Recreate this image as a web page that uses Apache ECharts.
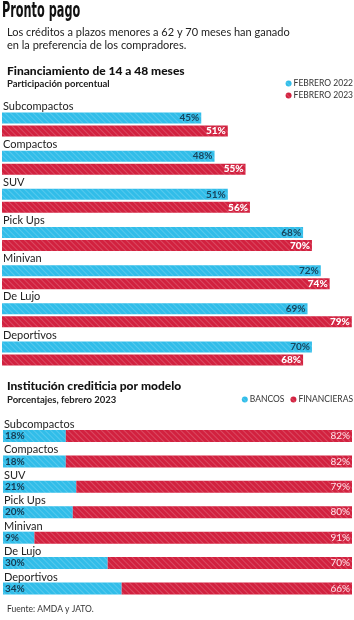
<!DOCTYPE html>
<html>
<head>
<meta charset="utf-8">
<script src="https://cdn.jsdelivr.net/npm/echarts@6/dist/echarts.min.js"></script>
<style>
  html, body { margin: 0; padding: 0; background: #fff; }
  #chart { width: 354px; height: 620px; }
</style>
</head>
<body>
<div id="chart"></div>
<script>
// datos
const modelos = ['Subcompactos', 'Compactos', 'SUV', 'Pick Ups', 'Minivan', 'De Lujo', 'Deportivos'];
const feb2022 = [45, 48, 51, 68, 72, 69, 70];
const feb2023 = [51, 55, 56, 70, 74, 79, 68];
const bancos = [18, 18, 21, 20, 9, 30, 34];
const financieras = [82, 82, 79, 80, 91, 70, 66];

const AZUL = '#31bde9';
const ROJO = '#d2213f';
const FONT = 'Lato, "Open Sans", sans-serif';

// rayas diagonales de las barras
const rayas = {
  symbol: 'rect',
  symbolSize: 1,
  dashArrayX: [1, 0],
  dashArrayY: [1, 3],
  rotation: Math.PI / 4,
  color: 'rgba(255,255,255,0.18)'
};

const myChart = echarts.init(document.getElementById('chart'));

// nombre del modelo encima de sus barras: bloque alto centrado en la banda
const catAxis = (gridIndex, hueco) => ({
  type: 'category',
  gridIndex,
  data: modelos,
  inverse: true,
  axisLine: { show: false },
  axisTick: { show: false },
  z: 5,
  axisLabel: {
    inside: true,
    interval: 0,
    showMinLabel: true,
    showMaxLabel: true,
    margin: 1,
    verticalAlign: 'middle',
    formatter: v => '{n|' + v + '}\n{s| }',
    rich: {
      n: { color: '#222', fontFamily: FONT, fontSize: 11, lineHeight: 12 },
      s: { fontSize: 2, lineHeight: hueco }
    }
  }
});

const leyenda = {
  icon: 'circle',
  padding: 0,
  itemWidth: 6, itemHeight: 6,
  textStyle: { fontFamily: FONT, fontSize: 8.5, color: '#333', padding: [0, 0, 0, -3] }
};

const option = {
  animation: false,
  textStyle: { fontFamily: FONT },
  graphic: [
    {
      type: 'text',
      x: 2, y: 0,
      scaleX: 0.57,
      style: {
        text: 'Pronto pago',
        font: 'bold 22px "Liberation Sans Narrow", "DejaVu Sans Condensed", sans-serif',
        fill: '#111',
        textVerticalAlign: 'top'
      }
    }
  ],
  title: [
    {
      text: 'Los créditos a plazos menores a 62 y 70 meses han ganado\nen la preferencia de los compradores.',
      left: 2, top: 21,
      textStyle: { fontFamily: FONT, fontSize: 11, lineHeight: 13, fontWeight: 'normal', color: '#222' }
    },
    {
      text: 'Financiamiento de 14 a 48 meses',
      left: 2, top: 60,
      textStyle: { fontFamily: FONT, fontSize: 12, fontWeight: 900, color: '#111' }
    },
    {
      text: 'Participación porcentual',
      left: 2, top: 74,
      textStyle: { fontFamily: FONT, fontSize: 9.5, fontWeight: 'bold', color: '#222' }
    },
    {
      text: 'Institución crediticia por modelo',
      left: 2, top: 375,
      textStyle: { fontFamily: FONT, fontSize: 12, fontWeight: 900, color: '#111' }
    },
    {
      text: 'Porcentajes, febrero 2023',
      left: 2, top: 390,
      textStyle: { fontFamily: FONT, fontSize: 9.5, fontWeight: 'bold', color: '#222' }
    },
    {
      text: 'Fuente: AMDA y JATO.',
      left: 2, top: 600,
      textStyle: { fontFamily: FONT, fontSize: 8.5, fontWeight: 'normal', color: '#333' }
    }
  ],
  legend: [
    Object.assign({}, leyenda, {
      data: ['FEBRERO 2022', 'FEBRERO 2023'],
      orient: 'vertical',
      right: 1, top: 79,
      itemGap: 3
    }),
    Object.assign({}, leyenda, {
      data: ['BANCOS', 'FINANCIERAS'],
      right: 1, top: 395,
      itemGap: 6
    })
  ],
  grid: [
    { left: 2, right: 0, top: 105.4, height: 267.2 },
    { left: 3, right: 2, top: 423.3, height: 177.9 }
  ],
  xAxis: [
    { type: 'value', gridIndex: 0, min: 0, max: 79.5, show: false },
    { type: 'value', gridIndex: 1, min: 0, max: 100, show: false }
  ],
  yAxis: [catAxis(0, 37), catAxis(1, 23)],
  series: [
    {
      name: 'FEBRERO 2022',
      type: 'bar',
      xAxisIndex: 0, yAxisIndex: 0,
      data: feb2022,
      barWidth: 11,
      barGap: '18%',
      itemStyle: { color: AZUL, decal: rayas },
      label: {
        show: true, position: 'insideRight', distance: 2,
        formatter: '{c}%', color: '#18465f', fontSize: 10, fontWeight: 'bold'
      }
    },
    {
      name: 'FEBRERO 2023',
      type: 'bar',
      xAxisIndex: 0, yAxisIndex: 0,
      data: feb2023,
      barWidth: 11,
      itemStyle: { color: ROJO, decal: rayas },
      label: {
        show: true, position: 'insideRight', distance: 2,
        formatter: '{c}%', color: '#fff', fontSize: 10, fontWeight: 900
      }
    },
    {
      name: 'BANCOS',
      type: 'bar',
      stack: 'total',
      xAxisIndex: 1, yAxisIndex: 1,
      data: bancos,
      barWidth: 12,
      itemStyle: { color: AZUL, decal: rayas },
      label: {
        show: true, position: 'insideLeft', distance: 2,
        formatter: '{c}%', color: '#153a52', fontSize: 10, fontWeight: 'bold'
      }
    },
    {
      name: 'FINANCIERAS',
      type: 'bar',
      stack: 'total',
      xAxisIndex: 1, yAxisIndex: 1,
      data: financieras,
      barWidth: 12,
      itemStyle: { color: ROJO, decal: rayas },
      label: {
        show: true, position: 'insideRight', distance: 2,
        formatter: '{c}%', color: '#ffe4ea', fontSize: 10
      }
    }
  ]
};

myChart.setOption(option);
</script>
</body>
</html>
